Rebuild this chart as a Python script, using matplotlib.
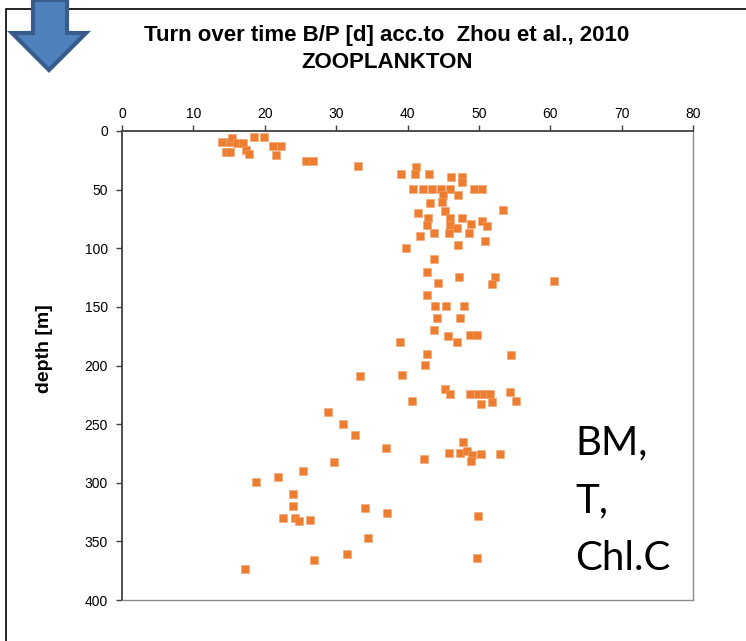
import matplotlib.pyplot as plt
from matplotlib.patches import Polygon, Rectangle

# turnover time B/P [d] and depth [m]
turnover = [
    14.0, 15.1, 15.4, 16.1, 16.9, 14.6, 15.1, 17.4, 17.8, 18.5, 19.9, 21.2, 22.3, 21.6,
    25.8, 26.8, 33.0,
    41.2, 39.1, 41.0, 43.0, 46.1, 47.7, 47.7,
    40.8, 42.2, 43.5, 44.7, 46.0, 49.3, 50.5,
    47.1, 45.0, 43.1, 44.9, 45.2, 41.5, 53.4,
    42.9, 46.0, 47.6, 42.7, 45.9, 46.9, 48.9, 50.5, 51.1,
    41.8, 43.7, 45.8, 48.6, 47.1, 50.9, 39.8, 43.7,
    42.7, 47.2, 52.2, 51.8, 44.3, 60.5, 42.8,
    43.9, 45.4, 47.9, 44.2, 47.4, 43.7, 45.7, 48.8, 49.7, 47.0, 38.9, 42.7, 54.5, 42.4, 39.2,
    33.3,
    45.3, 46.0, 40.7, 48.8, 49.9, 50.7, 51.5, 50.3, 51.9, 54.3, 55.2,
    37.0, 42.3, 45.8, 47.8, 47.3, 48.4, 49.0, 50.3, 48.9, 52.9,
    28.9, 31.0, 32.7, 29.7, 25.3, 21.8, 18.8, 24.0, 24.0, 22.5, 24.3, 24.8, 26.4,
    34.0, 34.5, 31.5, 26.9, 17.3, 37.1, 49.9, 49.8,
]
depth = [
    9.4, 9.4, 6.0, 10.0, 10.0, 18.0, 18.0, 16.0, 20.0, 5.0, 5.0, 12.4, 12.4, 20.5,
    25.6, 25.6, 30.0,
    31.0, 37.0, 37.0, 37.0, 39.5, 39.5, 43.8,
    49.6, 49.6, 49.6, 49.6, 49.6, 49.6, 49.6,
    54.9, 54.6, 61.7, 60.3, 68.0, 69.6, 67.7,
    74.0, 74.5, 74.5, 80.0, 80.0, 83.0, 79.6, 76.5, 81.3,
    89.6, 87.3, 87.3, 87.3, 97.2, 93.6, 99.5, 109.4,
    120.0, 124.5, 124.5, 130.5, 130.0, 127.7, 139.6,
    149.5, 149.5, 149.5, 159.5, 159.5, 170.0, 174.6, 173.7, 173.7, 180.0, 180.0, 190.0, 190.8, 199.6, 208.0,
    209.0,
    220.0, 224.6, 230.0, 224.3, 224.3, 224.3, 224.3, 233.0, 231.4, 222.9, 230.0,
    270.0, 279.7, 274.6, 265.2, 274.6, 272.7, 276.3, 275.7, 281.4, 275.5,
    240.0, 249.6, 259.6, 282.0, 289.7, 295.1, 299.6, 309.6, 320.0, 330.0, 329.7, 332.3, 331.5,
    321.5, 347.4, 360.5, 365.6, 373.8, 325.5, 328.4, 363.9,
]
x_ticks = [0, 10, 20, 30, 40, 50, 60, 70, 80]
y_ticks = [0, 50, 100, 150, 200, 250, 300, 350, 400]

plt.rcParams['font.family'] = ['Liberation Sans', 'DejaVu Sans']

fig = plt.figure(figsize=(7.46, 6.41), dpi=100)
ax = fig.add_axes([122 / 746, 1 - 600 / 641, (693 - 122) / 746, (600 - 131) / 641])

ax.plot(turnover, depth, linestyle='none', marker='s', markersize=6,
        color='#ED7D31', markeredgecolor='#F4A46E', markeredgewidth=0.4)

ax.set_xlim(0, 80)
ax.set_ylim(400, 0)
ax.set_xticks(x_ticks)
ax.set_yticks(y_ticks)
ax.xaxis.tick_top()
ax.tick_params(axis='both', labelsize=10, length=4, width=1, color='#404040', pad=3)
ax.tick_params(axis='y', pad=6)
for side in ['left', 'top']:
    ax.spines[side].set_color('#404040')
    ax.spines[side].set_linewidth(1.3)
for side in ['right', 'bottom']:
    ax.spines[side].set_color('#8C8C8C')
    ax.spines[side].set_linewidth(1.0)

ax.set_ylabel('depth [m]', fontsize=14, fontweight='bold')
ax.yaxis.set_label_coords(-0.12, 0.537)

fig.text(387 / 746, 1 - 35 / 641, 'Turn over time B/P [d] acc.to  Zhou et al., 2010',
         ha='center', va='center', fontsize=16, fontweight='bold')
fig.text(387 / 746, 1 - 62 / 641, 'ZOOPLANKTON',
         ha='center', va='center', fontsize=16, fontweight='bold')

fig.text(575 / 746, 1 - 424 / 641, 'BM,\nT,\nChl.C', ha='left', va='top',
         fontsize=29, linespacing=1.7, family=['Lato', 'DejaVu Sans'])

# outer frame and the blue down arrow
fig.patches.append(Rectangle((6 / 746, -0.1), 1.1, 1 - 9 / 641 + 0.1,
                             transform=fig.transFigure, fill=False,
                             edgecolor='black', linewidth=1.2))
arrow = [(33, 0), (67, 0), (67, 33), (86, 33), (49, 70), (12, 33), (33, 33)]
fig.patches.append(Polygon([(px / 746, 1 - py / 641) for px, py in arrow], closed=True,
                           transform=fig.transFigure, facecolor='#4F81BD',
                           edgecolor='#385D8A', linewidth=3))

fig.savefig('out.png', dpi=100)
